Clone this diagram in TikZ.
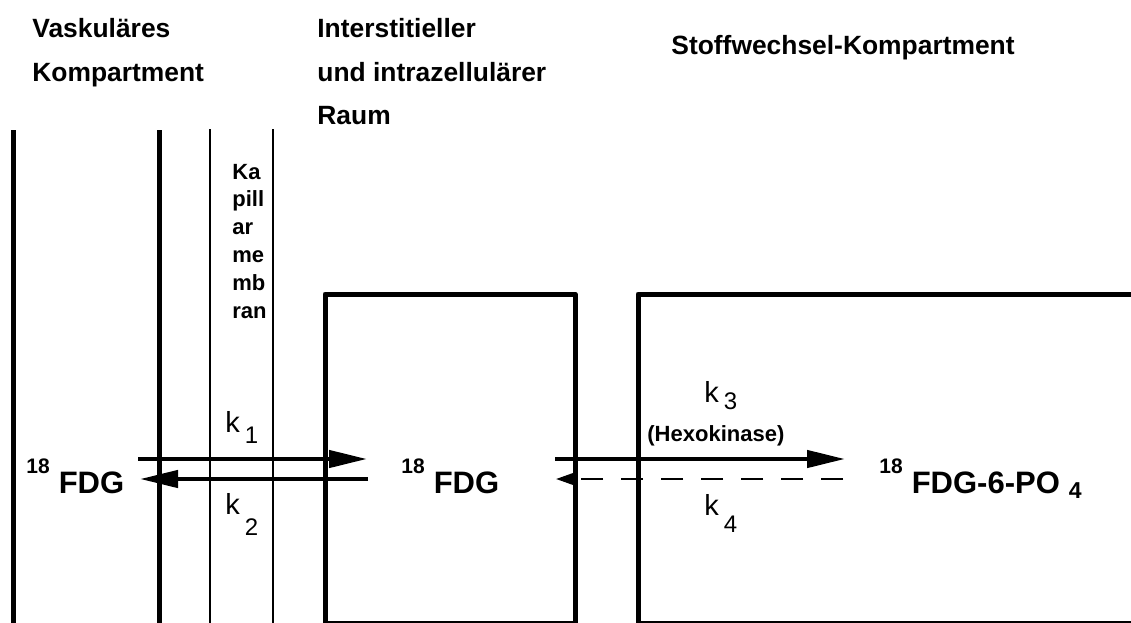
\documentclass[tikz,border=0pt]{standalone}
\usepackage{fontspec}
\setmainfont{Liberation Sans}
\usetikzlibrary{arrows.meta, positioning}

\newcommand{\iso}{\raisebox{10pt}{\fontsize{10.5}{12}\selectfont\bfseries 18}\hspace{4.5pt}}
\newcommand{\rate}[2]{k\hspace{2.5pt}\raisebox{-#2}{\fontsize{12}{14}\selectfont #1}}

\begin{document}
\begin{tikzpicture}[x=0.5pt, y=-0.5pt,
    wall/.style={line width=2.5pt},
    membrane/.style={line width=0.8pt},
    flux/.style={line width=2.2pt, -{Triangle[length=19pt, width=8.5pt]}},
    backflux/.style={line width=1.2pt, dash pattern=on 11pt off 9pt, -{Triangle[length=9pt, width=6pt]}},
    heading/.style={anchor=base west, inner sep=0pt, font=\fontsize{13.2}{15}\selectfont\bfseries},
    syll/.style={anchor=base west, inner sep=0pt, font=\fontsize{11}{13}\selectfont\bfseries},
    substance/.style={anchor=base west, inner sep=0pt, font=\fontsize{15.5}{18}\selectfont\bfseries},
    ratelabel/.style={anchor=base west, inner sep=0pt, font=\fontsize{14.5}{17}\selectfont}]
    \useasboundingbox (0,0) rectangle (1131,622);

    % Headings
    \node[heading] (vask1) at (32,37) {Vaskuläres};
    \node[heading] (vask2) at (32,81) {Kompartment};
    \node[heading] (inter1) at (317,37) {Interstitieller};
    \node[heading] (inter2) at (317,81) {und intrazellulärer};
    \node[heading] (inter3) at (317,124) {Raum};
    \node[heading] (stoff) at (671,54) {Stoffwechsel-Kompartment};

    % Vessel walls and capillary membrane
    \draw[wall] (13,130) -- (13,630);
    \draw[wall] (159,130) -- (159,630);
    \draw[membrane] (210,129) -- (210,630);
    \draw[membrane] (273,129) -- (273,630);
    \foreach \syl [count=\i] in {Ka,pill,ar,me,mb,ran}
        \node[syll] (kap\i) at (232,{179+27.8*(\i-1)}) {\syl};

    % Cell compartments
    \draw[wall, line join=round] (325,294) rectangle (575,623);
    \draw[wall, line join=round] (638,294) rectangle (1140,623);

    % Substances
    \node[substance] (fdgvas) at (26,493) {\iso FDG};
    \node[substance] (fdgint) at (401,493) {\iso FDG};
    \node[substance] (fdgpo) at (879,493) {\iso FDG-6-PO\hspace{4.5pt}\raisebox{-2.5pt}{\fontsize{11.5}{13}\selectfont 4}};

    % Transport
    \coordinate (k1from) at (138,459);
    \coordinate (k1to) at (367,459);
    \coordinate (k2from) at (368,479);
    \coordinate (k2to) at (140,479);
    \draw[flux] (k1from) -- (k1to);
    \draw[flux] (k2from) -- (k2to);
    \node[ratelabel] (k1) at (225,432) {\rate{1}{5.5pt}};
    \node[ratelabel] (k2) at (225,514) {\rate{2}{10.5pt}};

    % Phosphorylation
    \coordinate (k3from) at (555,459);
    \coordinate (k3to) at (845,459);
    \coordinate (k4from) at (843,479);
    \coordinate (k4to) at (556,479);
    \draw[flux] (k3from) -- (k3to);
    \draw[backflux] (k4from) -- (k4to);
    \node[ratelabel] (k3) at (704,402) {\rate{3}{3.5pt}};
    \node[syll] (hexo) at (647,441) {(Hexokinase)};
    \node[ratelabel] (k4) at (704,515) {\rate{4}{8.5pt}};
\end{tikzpicture}
\end{document}
